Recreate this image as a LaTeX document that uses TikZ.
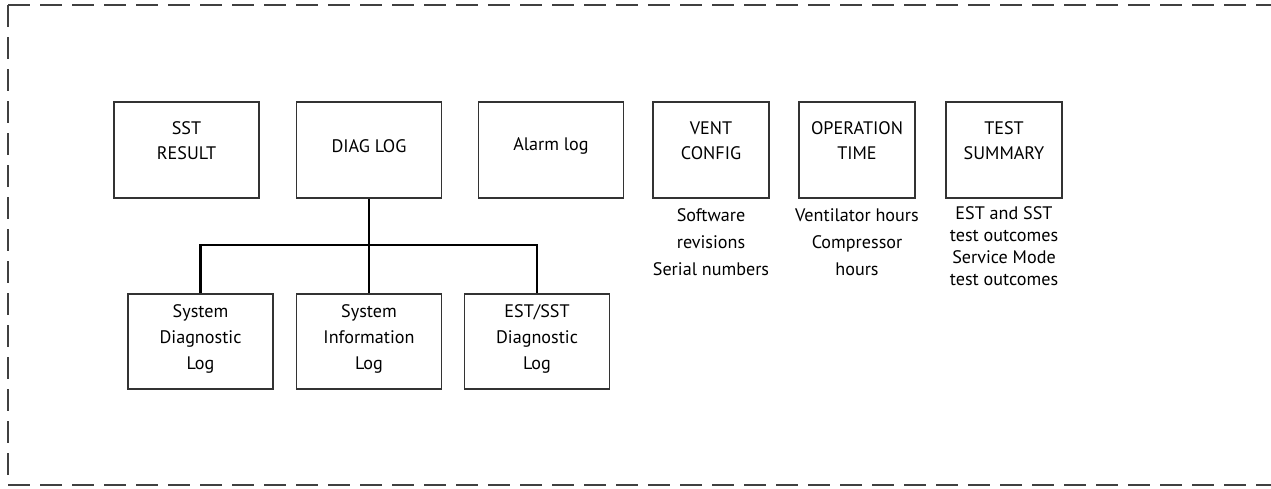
\documentclass[tikz,border=0pt]{standalone}
\usepackage{fontspec}
\setmainfont{PT Sans}
\tikzset{every picture/.style={line width=0.75pt}}
\tikzset{
  box/.style={draw=black!80, line width=1pt, minimum width=108.75pt, minimum height=72pt, inner sep=0pt},
  narrowbox/.style={box, minimum width=87pt},
  lowbox/.style={box, minimum height=71.25pt},
  boxtext/.style={align=center, inner sep=0pt, font=\fontsize{13.6}{18.75}\selectfont},
  lowtext/.style={boxtext, font=\fontsize{13.6}{19.5}\selectfont},
  notetext/.style={boxtext, font=\fontsize{13.6}{20.25}\selectfont},
  tightnote/.style={boxtext, font=\fontsize{13.6}{16.5}\selectfont},
  conn/.style={line width=2pt},
  frame/.style={draw=black!75, line width=1pt, dash pattern=on 16.5pt off 7.5pt}
}

\begin{document}
\begin{tikzpicture}[x=0.75pt,y=0.75pt,yscale=-1,xscale=1]
    \useasboundingbox (0,0) rectangle (1271,489);
    %Dashed frame, open on the right
    \draw[frame] (8,5) -- (1271,5) ;
    \draw[frame] (8,5) -- (8,485) -- (1271,485) ;
    %Shape: Rectangle -- top row
    \node[box] (sst) at (186.5,150) {};
    \node[box] (diag) at (369,150) {};
    \node[box] (alarm) at (551,150) {};
    \node[narrowbox] (vent) at (711,150) {};
    \node[narrowbox] (optime) at (857,150) {};
    \node[narrowbox] (summary) at (1004,150) {};
    %Box texts -- top row
    \node[boxtext] (sstt) at (186.5,141) {SST\\RESULT};
    \node[boxtext] (diagt) at (369,146) {DIAG LOG};
    \node[boxtext] (alarmt) at (551,146) {Alarm log};
    \node[boxtext] (ventt) at (711,141) {VENT\\CONFIG};
    \node[boxtext] (optimet) at (857,141) {OPERATION\\TIME};
    \node[boxtext] (summaryt) at (1004,141) {TEST\\SUMMARY};
    %Notes under the boxes
    \node[notetext] (ventn) at (711,242) {Software\\revisions\\Serial numbers};
    \node[notetext] (optimen) at (857,242) {Ventilator hours\\Compressor\\hours};
    \node[tightnote] (summaryn) at (1004,246) {EST and SST\\test outcomes\\Service Mode\\test outcomes};
    %Shape: Rectangle -- logs under DIAG LOG
    \node[lowbox] (sysdiag) at (200.5,341.5) {};
    \node[lowbox] (sysinfo) at (369,341.5) {};
    \node[lowbox] (estdiag) at (537,341.5) {};
    \node[lowtext] (sysdiagt) at (200.5,339) {System\\Diagnostic\\Log};
    \node[lowtext] (sysinfot) at (369,339) {System\\Information\\Log};
    \node[lowtext] (estdiagt) at (537,339) {EST/SST\\Diagnostic\\Log};
    %Straight Lines -- tree
    \coordinate (bus) at (369,245);
    \draw[conn] (diag.south) -- (bus) ;
    \draw[conn] (sysdiag.north) |- (bus) -| (estdiag.north) ;
    \draw[conn] (bus) -- (sysinfo.north) ;
\end{tikzpicture}
\end{document}
